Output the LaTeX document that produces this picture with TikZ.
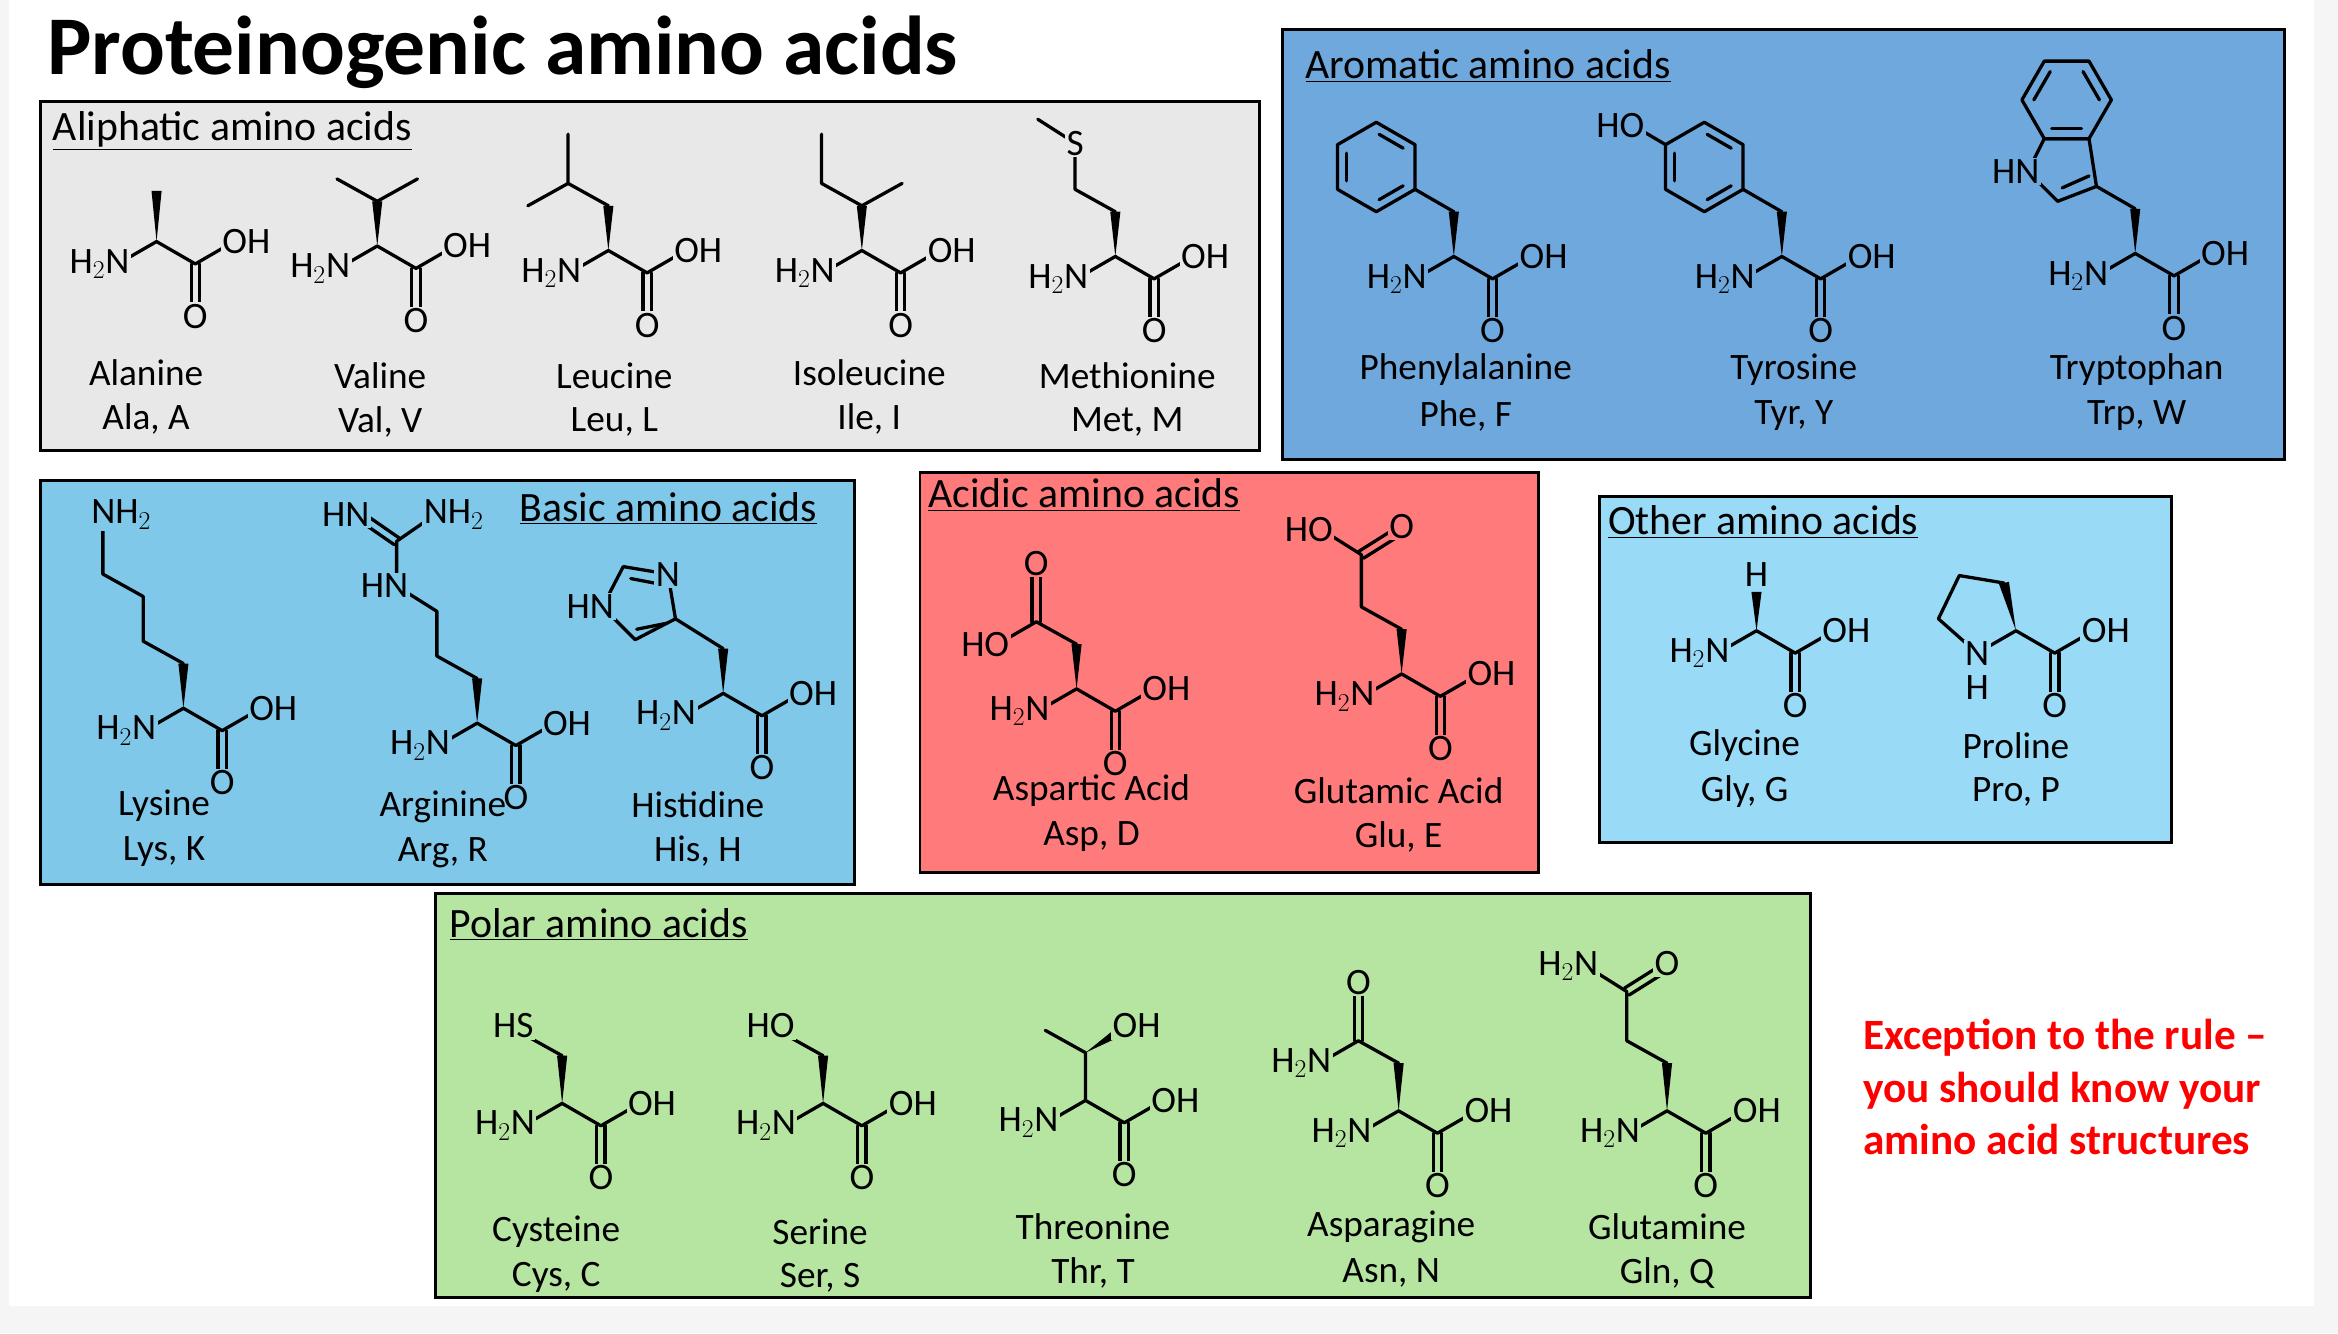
\documentclass[tikz,border=0pt]{standalone}
\usepackage{fontspec}
\setmainfont{Carlito}
\usetikzlibrary{calc}
\definecolor{cgray}{HTML}{E8E8E8}
\definecolor{carom}{HTML}{6FA8DC}
\definecolor{cbasic}{HTML}{80C8EA}
\definecolor{cacid}{HTML}{FF7B7B}
\definecolor{cother}{HTML}{99DAF7}
\definecolor{cpolar}{HTML}{B6E4A1}
\colorlet{bg}{white}
\tikzset{
  bond/.style={line width=2.2pt,line cap=round,line join=round},
  atom/.style={font=\fontsize{25}{25}\selectfont,inner sep=1pt,fill=bg},
  box/.style={line width=2pt,draw=black},
  btitle/.style={anchor=west,font=\fontsize{28}{28}\selectfont},
  aname/.style={font=\fontsize{25}{25}\selectfont},
}
\newcommand\wdg[2]{\fill ($#1$) -- ($#2!3.4pt!90:#1$) -- ($#2!3.4pt!-90:#1$) -- cycle;}
\newcommand\dbl[2]{\draw[bond] ($#1!2.8pt!90:#2$) -- ($#2!2.8pt!-90:#1$); \draw[bond] ($#1!2.8pt!-90:#2$) -- ($#2!2.8pt!90:#1$);}
\newcommand\aacore{\draw[bond] (-26,15)--(0,0)--(26,15)--(52,0); \dbl{(26,15)}{(26,48)}
  \node[atom] at (26,50){O}; \node[atom,anchor=west,xshift=-9pt] at (52,0){OH};}
\newcommand\amac[3]{\begin{scope}[shift={(#1,#2)}]\aacore #3
  \node[atom,anchor=east,xshift=9pt] at (-26,15){H$_2$N};\end{scope}}
\newcommand\nm[4]{\node[aname] at (#1,#2){#3}; \node[aname] at (#1,#2+31){#4};}
\newcommand\benz[1]{\begin{scope}[shift={#1}]
  \draw[bond] (30:30)--(90:30)--(150:30)--(210:30)--(270:30)--(330:30)--cycle;
  \draw[bond] (35:22)--(85:22); \draw[bond] (155:22)--(205:22); \draw[bond] (275:22)--(325:22);\end{scope}}
\begin{document}
\begin{tikzpicture}[x=1pt,y=-1pt]
\useasboundingbox (0,0) rectangle (1568,894);
\fill[white!96!black] (0,0) rectangle (1568,894);
\fill[white] (6,0) rectangle (1552,876);
\node[anchor=west,font=\bfseries\fontsize{56}{56}\selectfont] at (28,35){Proteinogenic amino acids};
% Aliphatic
\colorlet{bg}{cgray}
\draw[box,fill=cgray] (27,68) rectangle (845,302);
\node[btitle] at (32,88){\underline{Aliphatic amino acids}};
\amac{105}{162}{\wdg{(0,0)}{(0,-34)}}
\amac{253}{165}{\wdg{(0,0)}{(0,-30)}\draw[bond] (-27,-45)--(0,-30)--(27,-45);}
\amac{408}{168}{\wdg{(0,0)}{(0,-30)}\draw[bond] (0,-30)--(-27,-45)--(-27,-78); \draw[bond] (-27,-45)--(-54,-30);}
\amac{578}{168}{\wdg{(0,0)}{(0,-30)}\draw[bond] (0,-30)--(-27,-45)--(-27,-78); \draw[bond] (0,-30)--(27,-45);}
\amac{748}{172}{\wdg{(0,0)}{(0,-30)}\draw[bond] (0,-30)--(-27,-45)--(-27,-76)--(-52,-92); \node[atom] at (-27,-76){S};}
\nm{98}{250}{Alanine}{Ala, A}
\nm{255}{252}{Valine}{Val, V}
\nm{412}{252}{Leucine}{Leu, L}
\nm{583}{250}{Isoleucine}{Ile, I}
\nm{756}{252}{Methionine}{Met, M}
% Aromatic
\colorlet{bg}{carom}
\draw[box,fill=carom] (860,20) rectangle (1532,308);
\node[btitle] at (872,44){\underline{Aromatic amino acids}};
\amac{975}{172}{\wdg{(0,0)}{(0,-30)}\draw[bond] (0,-30)--(-26,-45); \benz{(-52,-60)}}
\amac{1195}{172}{\wdg{(0,0)}{(0,-30)}\draw[bond] (0,-30)--(-26,-45); \benz{(-52,-60)}
  \draw[bond] (-78,-75)--(-100,-88); \node[atom,anchor=east,xshift=9pt] at (-100,-88){HO};}
\amac{1432}{170}{\wdg{(0,0)}{(0,-30)}\draw[bond] (0,-30)--(-26,-45);
  \draw[bond] (-26,-45)--(-52,-35)--(-72,-55)--(-61,-77)--(-31,-77)--cycle;
  \draw[bond] (-31,-52)--(-49,-44);
  \draw[bond] (-16,-103)--(-31,-77)--(-61,-77)--(-76,-103)--(-61,-129)--(-31,-129)--cycle;
  \draw[bond] (-24,-103)--(-35,-122); \draw[bond] (-57,-122)--(-68,-103); \draw[bond] (-36,-84)--(-56,-84);
  \node[atom,anchor=east,xshift=9pt] at (-72,-55){HN};}
\nm{983}{248}{Phenylalanine}{Phe, F}
\nm{1203}{248}{Tyrosine}{Tyr, Y}
\nm{1433}{248}{Tryptophan}{Trp, W}
% Basic
\colorlet{bg}{cbasic}
\draw[box,fill=cbasic] (27,322) rectangle (573,593);
\node[btitle] at (345,341){\underline{Basic amino acids}};
\amac{123}{475}{\wdg{(0,0)}{(0,-30)}\draw[bond] (0,-30)--(-27,-45)--(-27,-75)--(-54,-90)--(-54,-128);
  \node[atom,anchor=west,xshift=-9pt] at (-54,-130){NH$_2$};}
\amac{320}{485}{\wdg{(0,0)}{(0,-30)}\draw[bond] (0,-30)--(-27,-45)--(-27,-75)--(-54,-92)--(-54,-122)--(-28,-140);
  \dbl{(-54,-122)}{(-80,-140)}
  \node[atom,anchor=east,xshift=9pt] at (-54,-92){HN};
  \node[atom,anchor=east,xshift=9pt] at (-80,-140){HN};
  \node[atom,anchor=west,xshift=-9pt] at (-28,-140){NH$_2$};}
\amac{485}{465}{\wdg{(0,0)}{(0,-30)}\draw[bond] (0,-30)--(-32,-50);
  \draw[bond] (-32,-50)--(-37,-80)--(-67,-85)--(-81,-58)--(-59,-36)--cycle;
  \draw[bond] (-41,-73)--(-62,-77); \draw[bond] (-38,-47)--(-58,-43);
  \node[atom] at (-37,-80){N};
  \node[atom,anchor=east,xshift=9pt] at (-81,-58){HN};}
\nm{110}{540}{Lysine}{Lys, K}
\nm{297}{541}{Arginine}{Arg, R}
\nm{468}{540}{Histidine}{His, H}
% Acidic
\colorlet{bg}{cacid}
\draw[box,fill=cacid] (617,317) rectangle (1032,585);
\node[btitle] at (619,332){\underline{Acidic amino acids}};
\amac{722}{462}{\wdg{(0,0)}{(0,-30)}\draw[bond] (0,-30)--(-27,-45)--(-53,-30); \dbl{(-27,-45)}{(-27,-82)}
  \node[atom] at (-27,-84){O}; \node[atom,anchor=east,xshift=9pt] at (-53,-30){HO};}
\amac{940}{452}{\wdg{(0,0)}{(0,-30)}\draw[bond] (0,-30)--(-27,-45)--(-27,-80)--(-54,-97); \dbl{(-27,-80)}{(0,-97)}
  \node[atom] at (0,-99){O}; \node[atom,anchor=east,xshift=9pt] at (-54,-97){HO};}
\nm{732}{530}{Aspartic Acid}{Asp, D}
\nm{938}{530}{Glutamic Acid}{Glu, E}
% Other
\colorlet{bg}{cother}
\draw[box,fill=cother] (1073,333) rectangle (1456,565);
\node[btitle] at (1075,350){\underline{Other amino acids}};
\amac{1178}{423}{\wdg{(0,0)}{(0,-26)}\node[atom] at (0,-38){H};}
\begin{scope}[shift={(1352,423)}]\aacore
  \draw[bond] (-26,15)--(-52,-8)--(-38,-37)--(-8,-32); \wdg{(0,0)}{(-8,-32)}
  \node[atom] at (-26,15){N}; \node[atom] at (-26,38){H};\end{scope}
\nm{1170}{500}{Glycine}{Gly, G}
\nm{1352}{500}{Proline}{Pro, P}
% Polar
\colorlet{bg}{cpolar}
\draw[box,fill=cpolar] (292,599) rectangle (1214,870);
\node[btitle] at (298,620){\underline{Polar amino acids}};
\amac{377}{740}{\wdg{(0,0)}{(0,-32)}\draw[bond] (0,-32)--(-27,-47); \node[atom,anchor=east,xshift=9pt] at (-27,-52){HS};}
\amac{552}{740}{\wdg{(0,0)}{(0,-32)}\draw[bond] (0,-32)--(-27,-47); \node[atom,anchor=east,xshift=9pt] at (-27,-52){HO};}
\amac{728}{738}{\draw[bond] (0,0)--(0,-32)--(-27,-47); \wdg{(0,-32)}{(24,-47)}
  \node[atom,anchor=west,xshift=-9pt] at (26,-50){OH};}
\amac{938}{745}{\wdg{(0,0)}{(0,-32)}\draw[bond] (0,-32)--(-27,-47)--(-53,-32); \dbl{(-27,-47)}{(-27,-82)}
  \node[atom] at (-27,-86){O}; \node[atom,anchor=east,xshift=9pt] at (-53,-32){H$_2$N};}
\amac{1118}{745}{\wdg{(0,0)}{(0,-32)}\draw[bond] (0,-32)--(-27,-47)--(-27,-80)--(-54,-97); \dbl{(-27,-80)}{(0,-97)}
  \node[atom] at (0,-99){O}; \node[atom,anchor=east,xshift=9pt] at (-54,-97){H$_2$N};}
\nm{373}{826}{Cysteine}{Cys, C}
\nm{550}{826}{Serine}{Ser, S}
\nm{733}{823}{Threonine}{Thr, T}
\nm{933}{823}{Asparagine}{Asn, N}
\nm{1118}{823}{Glutamine}{Gln, Q}
% note
\node[anchor=west,align=left,text=red,font=\bfseries\fontsize{29}{35}\selectfont] at (1246,729)
  {Exception to the rule --\\you should know your\\amino acid structures};
\end{tikzpicture}
\end{document}
